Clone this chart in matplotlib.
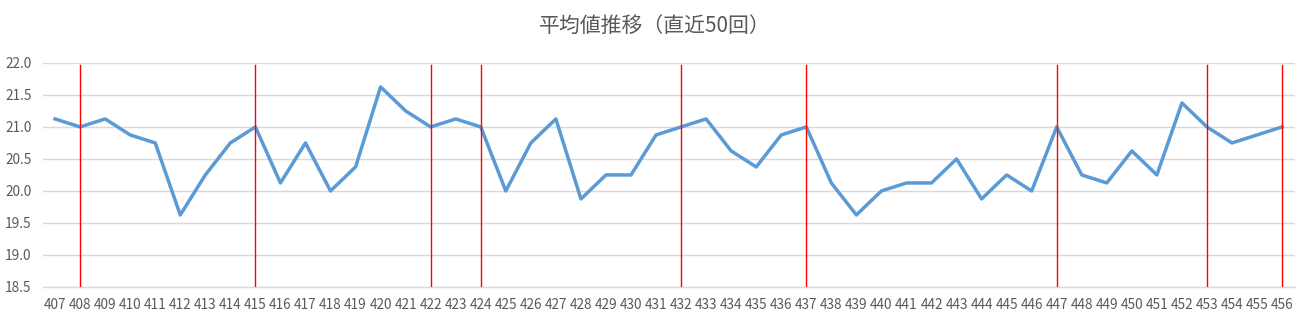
import matplotlib
matplotlib.use('Agg')
import matplotlib.pyplot as plt

plt.rcParams['font.family'] = ['Noto Sans CJK JP', 'DejaVu Sans']

# draw numbers (x axis) and average values
draws = list(range(407, 457))
averages = [
    21.125, 21.0, 21.125, 20.875, 20.75, 19.625, 20.25, 20.75, 21.0, 20.125,
    20.75, 20.0, 20.375, 21.625, 21.25, 21.0, 21.125, 21.0, 20.0, 20.75,
    21.125, 19.875, 20.25, 20.25, 20.875, 21.0, 21.125, 20.625, 20.375, 20.875,
    21.0, 20.125, 19.625, 20.0, 20.125, 20.125, 20.5, 19.875, 20.25, 20.0,
    21.0, 20.25, 20.125, 20.625, 20.25, 21.375, 21.0, 20.75, 20.875, 21.0,
]
# draws marked with red vertical lines
marked = [408, 415, 422, 424, 432, 437, 447, 453, 456]

yticks = [18.5, 19.0, 19.5, 20.0, 20.5, 21.0, 21.5, 22.0]

fig = plt.figure(figsize=(13.09, 3.21), dpi=100)
ax = fig.add_axes([0.0325, 0.106, 0.9565, 0.698])

xs = list(range(len(draws)))
ax.plot(xs, averages, color='#5B9BD5', linewidth=2.5, solid_joinstyle='round', zorder=3)

for d in marked:
    i = draws.index(d)
    ax.plot([i, i], [18.5, 21.96], color='red', linewidth=1.0, zorder=4)

ax.set_xlim(-0.5, len(draws) - 0.5)
ax.set_ylim(18.5, 22.0)
ax.set_xticks(xs)
ax.set_xticklabels([str(d) for d in draws])
ax.set_yticks(yticks)
ax.set_yticklabels([f'{v:.1f}' for v in yticks])
ax.tick_params(axis='both', length=0, labelsize=9.8, labelcolor='#595959')
ax.tick_params(axis='x', pad=8)
ax.tick_params(axis='y', pad=8)

ax.grid(axis='y', color='#d9d9d9', linewidth=1.0, zorder=0)
ax.set_axisbelow(True)
for s in ['top', 'right', 'left']:
    ax.spines[s].set_visible(False)
ax.spines['bottom'].set_color('#d9d9d9')
ax.spines['bottom'].set_linewidth(1.0)

fig.text(0.5, 0.918, '平均値推移（直近50回）', ha='center', va='center',
         fontsize=15, color='#595959')

fig.savefig('out.png', dpi=100)
